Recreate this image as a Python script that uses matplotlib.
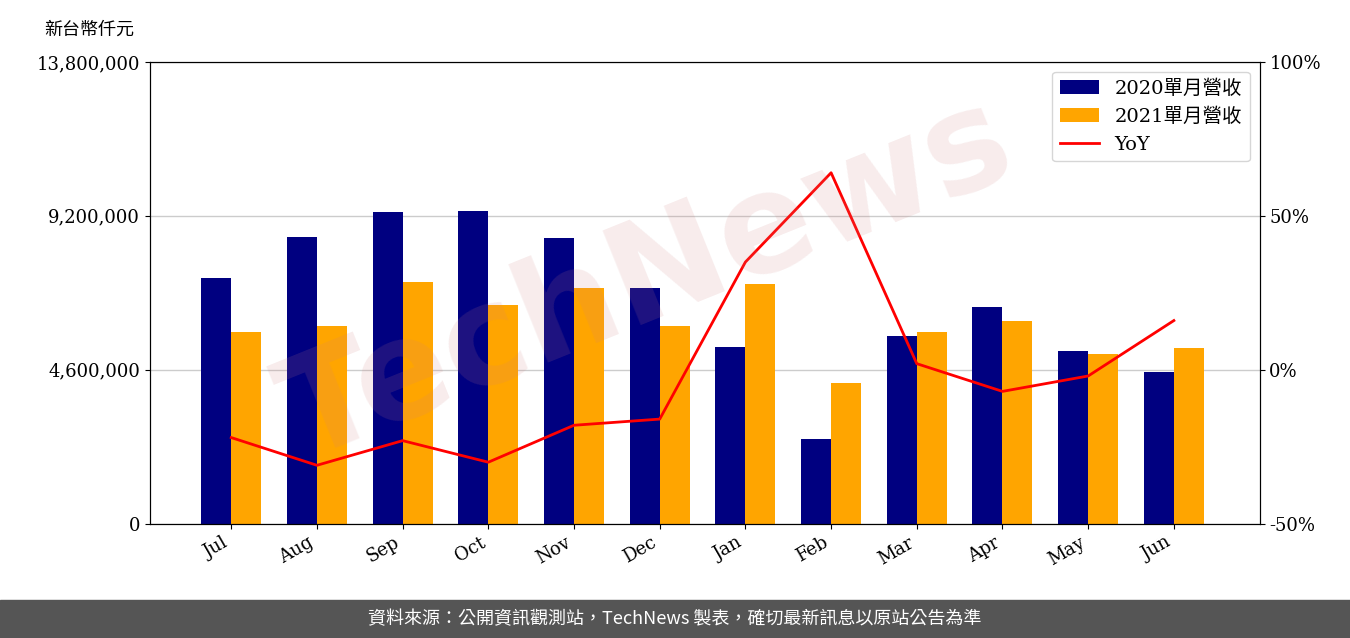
import numpy as np
import matplotlib.pyplot as plt
from matplotlib.ticker import FuncFormatter

plt.rcParams['font.family'] = ['DejaVu Serif', 'Noto Sans CJK TC']

months = ['Jul', 'Aug', 'Sep', 'Oct', 'Nov', 'Dec', 'Jan', 'Feb', 'Mar', 'Apr', 'May', 'Jun']
rev_2020 = [7350000, 8570000, 9320000, 9350000, 8540000, 7050000,
            5290000, 2540000, 5620000, 6480000, 5170000, 4540000]
rev_2021 = [5730000, 5910000, 7230000, 6540000, 7050000, 5910000,
            7170000, 4210000, 5730000, 6060000, 5080000, 5260000]
yoy = [-22, -31, -23, -30, -18, -16, 35, 64, 2, -7, -2, 16]

fig = plt.figure(figsize=(13.5, 6.38), dpi=100)
# faint watermark behind the plot
fig.text(0.48, 0.56, 'TechNews', fontsize=100, color='#d08080', alpha=0.15,
         rotation=22, ha='center', va='center', family='DejaVu Sans',
         fontweight='bold', zorder=0)

ax = fig.add_axes([0.111, 0.179, 0.822, 0.724])
ax.patch.set_alpha(0)
x = np.arange(len(months))
w = 0.35
ax.bar(x - w / 2, rev_2020, w, color='#000080', label='2020單月營收')
ax.bar(x + w / 2, rev_2021, w, color='#FFA500', label='2021單月營收')
ax.set_ylim(0, 13800000)
ax.set_yticks([0, 4600000, 9200000, 13800000])
ax.yaxis.set_major_formatter(FuncFormatter(lambda v, p: f'{int(v):,}'))
ax.grid(axis='y', color='#cccccc', linewidth=1)
ax.set_axisbelow(True)
ax.set_xticks(x)
ax.set_xticklabels(months, rotation=30, ha='right')
ax.set_xlim(-0.95, 12.0)
ax.tick_params(labelsize=13)

ax2 = ax.twinx()
ax2.plot(x, yoy, color='red', linewidth=2, label='YoY')
ax2.set_ylim(-50, 100)
ax2.set_yticks([-50, 0, 50, 100])
ax2.yaxis.set_major_formatter(FuncFormatter(lambda v, p: f'{int(v)}%'))
ax2.tick_params(labelsize=13)

h1, l1 = ax.get_legend_handles_labels()
h2, l2 = ax2.get_legend_handles_labels()
ax2.legend(h1 + h2, l1 + l2, loc='upper right',
           prop={'family': ['DejaVu Serif', 'Noto Sans CJK TC'], 'size': 14})

fig.text(0.033, 0.945, '新台幣仟元', fontsize=13, family='Noto Sans CJK TC')

fig.patches.append(plt.Rectangle((0, 0), 1, 0.059, transform=fig.transFigure,
                                 color='#555555', zorder=0))
fig.text(0.5, 0.029, '資料來源：公開資訊觀測站，TechNews 製表，確切最新訊息以原站公告為準',
         color='white', fontsize=13, ha='center', va='center', family='Noto Sans CJK TC')

fig.savefig('out.png', dpi=100)
